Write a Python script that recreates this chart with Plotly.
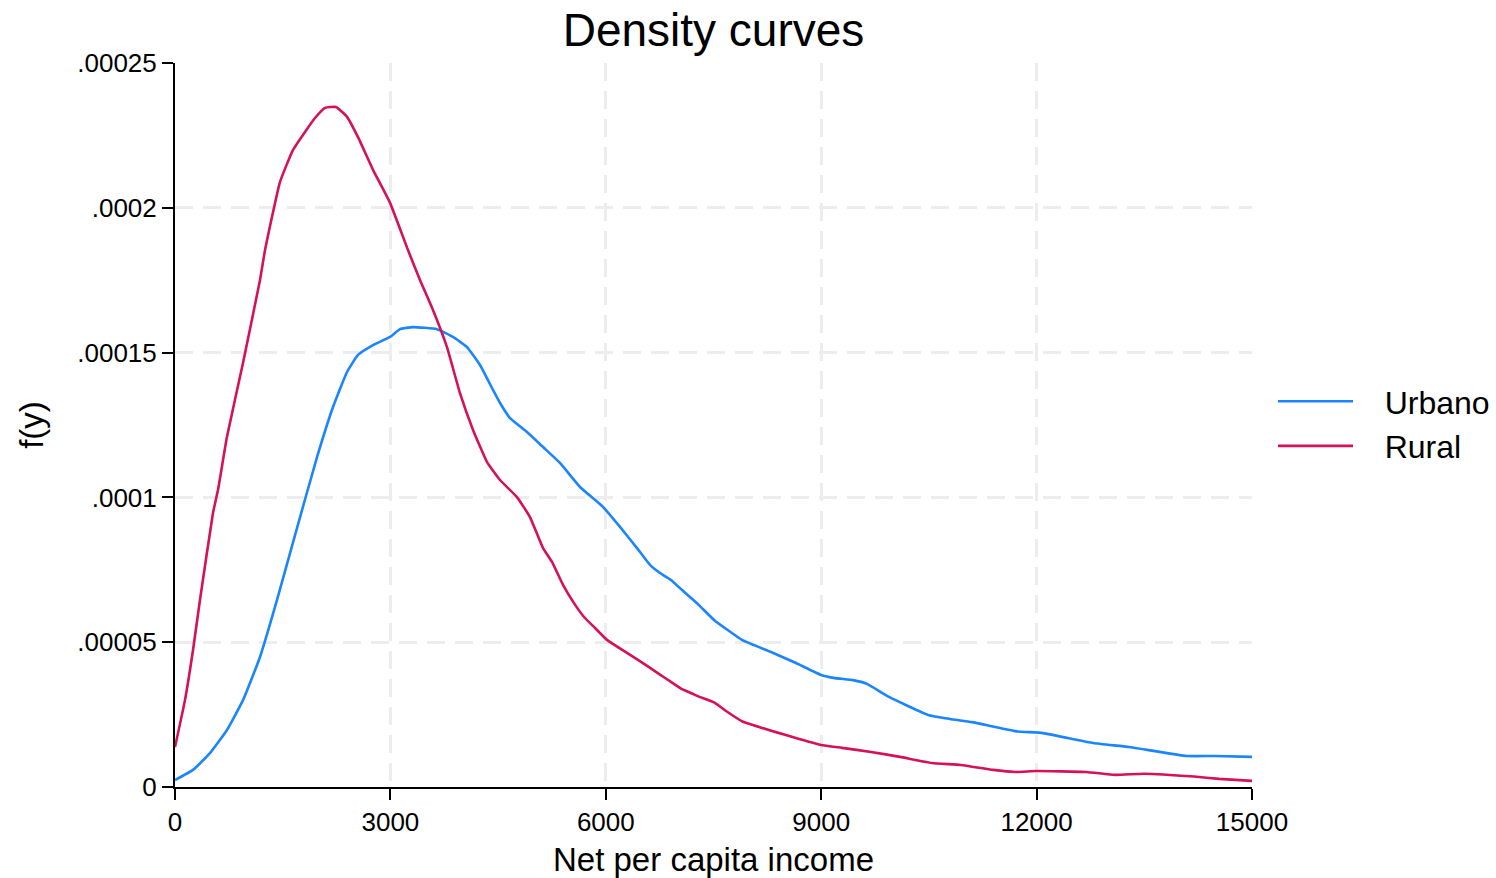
import plotly.graph_objects as go

# Net per capita income grid and density values
rural_x = [0, 139, 251, 348, 529, 599, 724, 947, 1184, 1254, 1462, 1644, 1811, 1950,
           2089, 2242, 2396, 2549, 2758, 2995, 3245, 3412, 3593, 3788, 3969, 4151,
           4346, 4527, 4763, 4944, 5126, 5251, 5404, 5557, 5697, 5850, 6017, 6295,
           6602, 6755, 6908, 7048, 7201, 7298, 7507, 7700, 7897, 8496, 8997, 9290,
           9694, 10098, 10543, 10947, 11393, 11700, 11992, 12689, 13092, 13496,
           14193, 14541, 15000]
rural_y = [1.38e-5, 3.00e-5, 4.73e-5, 6.46e-5, 9.46e-5, 1.026e-4, 1.209e-4, 1.464e-4,
           1.751e-4, 1.854e-4, 2.089e-4, 2.200e-4, 2.262e-4, 2.310e-4, 2.345e-4,
           2.348e-4, 2.314e-4, 2.244e-4, 2.131e-4, 2.017e-4, 1.854e-4, 1.751e-4,
           1.647e-4, 1.519e-4, 1.360e-4, 1.233e-4, 1.122e-4, 1.060e-4, 1.001e-4,
           0.932e-4, 0.825e-4, 7.77e-5, 6.98e-5, 6.35e-5, 5.87e-5, 5.49e-5, 5.08e-5,
           4.63e-5, 4.14e-5, 3.88e-5, 3.63e-5, 3.40e-5, 3.23e-5, 3.12e-5, 2.92e-5,
           2.58e-5, 2.27e-5, 1.80e-5, 1.45e-5, 1.35e-5, 1.21e-5, 1.04e-5, 8.3e-6,
           7.6e-6, 5.9e-6, 5.2e-6, 5.5e-6, 5.2e-6, 4.2e-6, 4.6e-6, 3.6e-6, 2.8e-6,
           2.1e-6]

urbano_x = [0, 251, 487, 724, 947, 1184, 1421, 1699, 1978, 2201, 2396, 2549, 2758,
            2995, 3134, 3315, 3649, 3872, 4067, 4248, 4429, 4527, 4666, 4903, 5126,
            5362, 5641, 5961, 6198, 6435, 6616, 6755, 6908, 7062, 7298, 7507, 7897,
            8301, 8649, 8997, 9193, 9443, 9638, 9944, 10488, 10794, 11101, 11700,
            12090, 12786, 13287, 14095, 14485, 15000]
urbano_y = [2.4e-6, 5.9e-6, 1.17e-5, 1.97e-5, 3.00e-5, 4.49e-5, 6.46e-5, 8.94e-5,
            1.139e-4, 1.312e-4, 1.433e-4, 1.492e-4, 1.526e-4, 1.554e-4, 1.581e-4,
            1.588e-4, 1.581e-4, 1.554e-4, 1.519e-4, 1.457e-4, 1.371e-4, 1.326e-4,
            1.274e-4, 1.226e-4, 1.174e-4, 1.119e-4, 1.036e-4, 9.67e-5, 8.98e-5,
            8.25e-5, 7.67e-5, 7.39e-5, 7.15e-5, 6.80e-5, 6.28e-5, 5.77e-5, 5.08e-5,
            4.66e-5, 4.28e-5, 3.87e-5, 3.76e-5, 3.69e-5, 3.56e-5, 3.11e-5, 2.49e-5,
            2.35e-5, 2.24e-5, 1.93e-5, 1.86e-5, 1.52e-5, 1.38e-5, 1.07e-5, 1.07e-5,
            1.04e-5]

x_ticks = [0, 3000, 6000, 9000, 12000, 15000]
x_ticktext = ["0", "3000", "6000", "9000", "12000", "15000"]
y_ticks = [0, 0.00005, 0.0001, 0.00015, 0.0002, 0.00025]
y_ticktext = ["0", ".00005", ".0001", ".00015", ".0002", ".00025"]

FONT = "Liberation Sans, Arial, Helvetica, sans-serif"
PAD = "\u00a0\u00a0\u00a0"

fig = go.Figure()
fig.add_trace(go.Scatter(x=urbano_x, y=urbano_y, mode="lines", name=PAD + "Urbano",
                         line=dict(color="#1A85FF", width=2.6, shape="spline",
                                   smoothing=0.4)))
fig.add_trace(go.Scatter(x=rural_x, y=rural_y, mode="lines", name=PAD + "Rural",
                         line=dict(color="#D41159", width=2.6, shape="spline",
                                   smoothing=0.4)))

grid = dict(showgrid=True, gridcolor="#ededed", gridwidth=2.5, griddash="18px,10px")
axis = dict(showline=True, linecolor="black", linewidth=2, ticks="outside",
            ticklen=11, tickwidth=2, tickcolor="black", tickfont=dict(size=26),
            zeroline=False, **grid)

fig.update_layout(
    width=1496, height=878,
    margin=dict(l=175, r=244, t=63, b=91, autoexpand=False),
    paper_bgcolor="white", plot_bgcolor="white",
    font=dict(family=FONT, color="black"),
    title=dict(text="Density curves", font=dict(size=46, color="black"),
               x=0.5, xref="paper", y=1 - 30 / 878, yref="container",
               xanchor="center", yanchor="middle"),
    showlegend=True,
    legend=dict(font=dict(size=32), xref="container", yref="container",
                x=1273 / 1496, y=1 - 374 / 878, xanchor="left", yanchor="top",
                itemwidth=75, tracegroupgap=0, bgcolor="rgba(0,0,0,0)"),
)
fig.update_xaxes(range=[0, 15000], tickvals=x_ticks, ticktext=x_ticktext,
                 title=dict(text="Net per capita income", font=dict(size=33),
                            standoff=16), **axis)
fig.update_yaxes(range=[0, 0.00025], tickvals=y_ticks, ticktext=y_ticktext,
                 title=dict(text="f(y)", font=dict(size=33), standoff=24), **axis)

fig.write_html("out.html")
